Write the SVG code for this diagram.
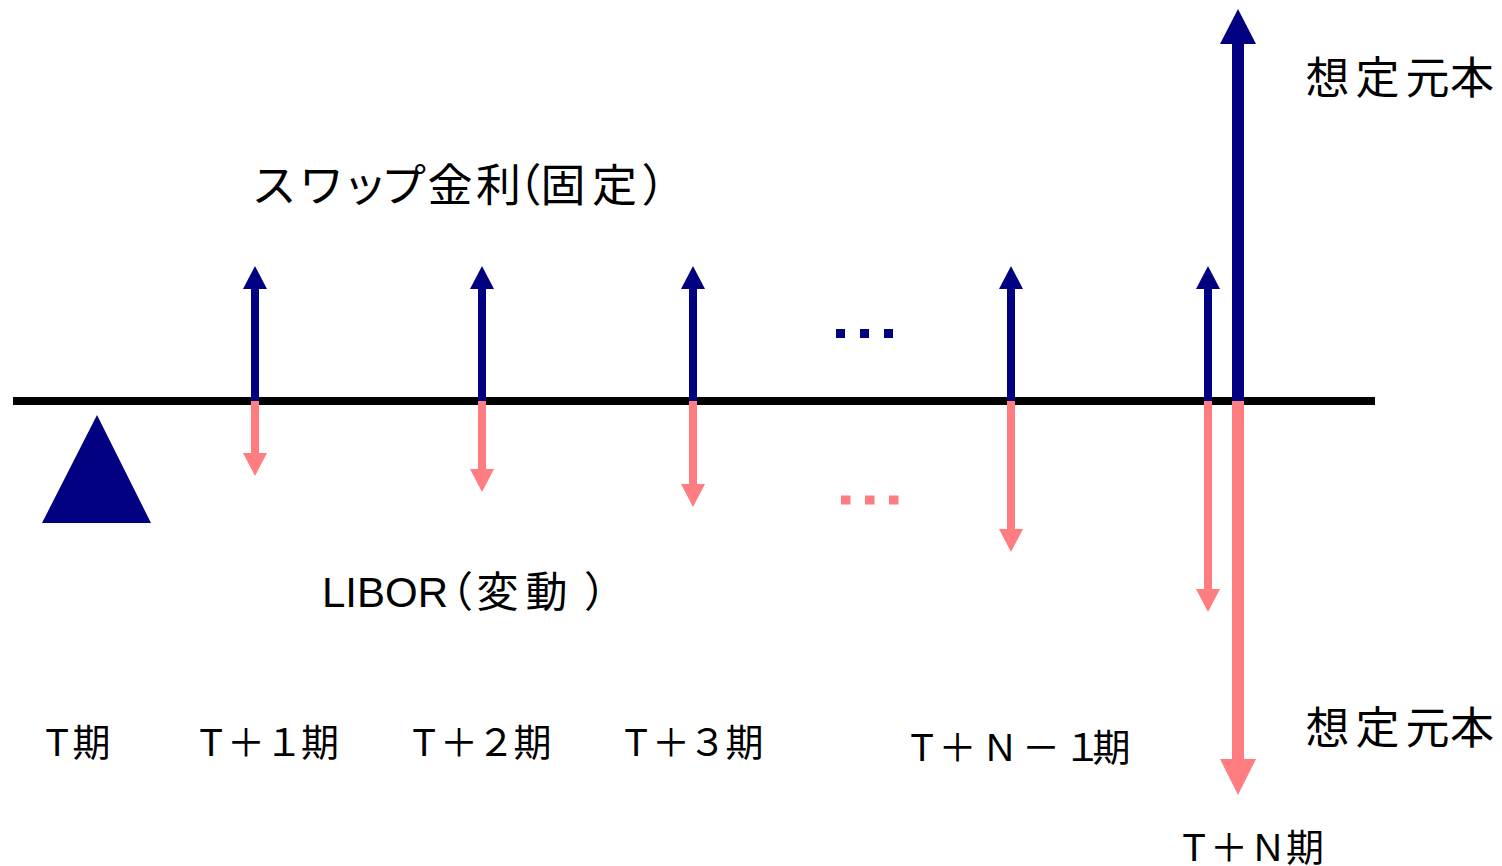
<svg xmlns="http://www.w3.org/2000/svg" width="1502" height="866" viewBox="0 0 1502 866">
<style>
.t{font-family:"Liberation Sans","Noto Sans CJK JP",sans-serif;fill:#000;text-anchor:middle}
.j{font-family:"Noto Sans CJK JP","Noto Sans CJK SC",sans-serif;fill:#000;text-anchor:middle}
.h{font-feature-settings:"halt"}
.up{stroke:#000080;stroke-width:8;fill:none}
.dn{stroke:#FF7C80;stroke-width:8;fill:none}
.upB{stroke:#000080;stroke-width:12;fill:none}
.dnB{stroke:#FF7C80;stroke-width:12;fill:none}
</style>
<defs>
<marker id="hb" markerUnits="userSpaceOnUse" markerWidth="24" markerHeight="24" refX="0" refY="12" orient="auto" overflow="visible"><path d="M0,0 L23,12 L0,24 Z" fill="#000080"/></marker>
<marker id="hp" markerUnits="userSpaceOnUse" markerWidth="24" markerHeight="24" refX="0" refY="12" orient="auto" overflow="visible"><path d="M0,0 L23,12 L0,24 Z" fill="#FF7C80"/></marker>
<marker id="hbL" markerUnits="userSpaceOnUse" markerWidth="36" markerHeight="36" refX="0" refY="18" orient="auto" overflow="visible"><path d="M0,0 L35,18 L0,36 Z" fill="#000080"/></marker>
<marker id="hpL" markerUnits="userSpaceOnUse" markerWidth="36" markerHeight="36" refX="0" refY="18" orient="auto" overflow="visible"><path d="M0,0 L36,18 L0,36 Z" fill="#FF7C80"/></marker>
</defs>
<rect width="1502" height="866" fill="#fff"/>
<g id="timeline">
<line x1="13" y1="401" x2="1375" y2="401" stroke="#000" stroke-width="8"/>
</g>
<g id="start-marker">
<polygon points="97,415 42,523 151,523" fill="#000080"/>
</g>
<g id="connectors">
<line class="up" x1="255" y1="401" x2="255" y2="289" marker-end="url(#hb)"/>
<line class="up" x1="482" y1="401" x2="482" y2="289" marker-end="url(#hb)"/>
<line class="up" x1="693" y1="401" x2="693" y2="289" marker-end="url(#hb)"/>
<line class="up" x1="1011" y1="401" x2="1011" y2="289" marker-end="url(#hb)"/>
<line class="up" x1="1208" y1="401" x2="1208" y2="289" marker-end="url(#hb)"/>
<line class="upB" x1="1238" y1="401" x2="1238" y2="44" marker-end="url(#hbL)"/>
<line class="dn" x1="255" y1="401" x2="255" y2="453" marker-end="url(#hp)"/>
<line class="dn" x1="482" y1="401" x2="482" y2="469" marker-end="url(#hp)"/>
<line class="dn" x1="693" y1="401" x2="693" y2="484" marker-end="url(#hp)"/>
<line class="dn" x1="1011" y1="401" x2="1011" y2="529" marker-end="url(#hp)"/>
<line class="dn" x1="1208" y1="401" x2="1208" y2="589" marker-end="url(#hp)"/>
<line class="dnB" x1="1238" y1="401" x2="1238" y2="759" marker-end="url(#hpL)"/>
</g>
<g id="ellipsis-up" fill="#000080">
<rect x="836" y="329" width="9" height="9"/>
<rect x="860" y="329" width="9" height="9"/>
<rect x="884" y="329" width="9" height="9"/>
</g>
<g id="ellipsis-down" fill="#FF7C80">
<rect x="841" y="495.5" width="9.5" height="9"/>
<rect x="865" y="495.5" width="9.5" height="9"/>
<rect x="889" y="495.5" width="9.5" height="9"/>
</g>
<g id="label-swap">
<text class="j" font-size="45" x="274 321.5 365 403.5 450 498.5 519 563 614.5 664" y="202">スワップ金利（固定）</text>
</g>
<g id="label-libor">
<text font-family="'Liberation Sans','Noto Sans CJK JP',sans-serif" font-size="42" x="322" y="607">LIBOR<tspan class="h" font-family="'Noto Sans CJK JP',sans-serif" x="452">（</tspan><tspan font-family="'Noto Sans CJK JP',sans-serif" x="476.5 525.5">変動</tspan><tspan class="h" font-family="'Noto Sans CJK JP',sans-serif" x="584">）</tspan></text>
</g>
<g id="label-notional-top">
<text class="j" font-size="44" x="1327.5 1377.5 1427.5 1472" y="94">想定元本</text>
</g>
<g id="label-notional-bottom">
<text class="j" font-size="44" x="1327.5 1377.5 1427.5 1472" y="744">想定元本</text>
</g>
<g id="label-t0"><text class="t" font-size="38" x="57 91.5" y="756">T期</text></g>
<g id="label-t1"><text class="t" font-size="38" x="211 246 284 320" y="756">T＋１期</text></g>
<g id="label-t2"><text class="t" font-size="38" x="424 459 496 532.5" y="756">T＋２期</text></g>
<g id="label-t3"><text class="t" font-size="38" x="636 671 707.5 744.5" y="756">T＋３期</text></g>
<g id="label-tn1"><text class="t" font-size="38" x="922 957.5 1000 1041 1082.5 1111.5" y="761">T＋N－１期</text></g>
<g id="label-tn"><text class="t" font-size="38" x="1194 1229 1268 1305" y="861">T＋N期</text></g>
</svg>
